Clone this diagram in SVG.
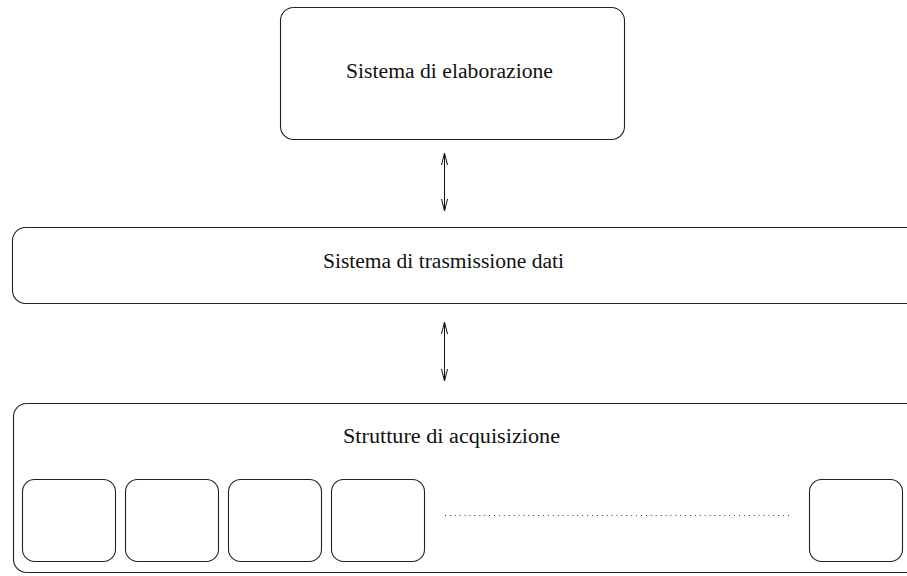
<svg xmlns="http://www.w3.org/2000/svg" width="907" height="576" viewBox="0 0 907 576">
<style>
.box{fill:none;stroke:#222;stroke-width:1.1}
.lbl{font-family:'Liberation Serif','Nimbus Roman','DejaVu Serif',serif;font-size:20.5px;fill:#111}
.con{fill:none;stroke:#111;stroke-width:1}
</style>
<rect width="907" height="576" fill="#fff"/>
<g id="elaborazione">
<rect class="box" x="280.5" y="7.5" width="344" height="132" rx="13"/>
<text class="lbl" x="346" y="78" textLength="207" lengthAdjust="spacingAndGlyphs">Sistema di elaborazione</text>
</g>
<g id="trasmissione">
<rect class="box" x="12.5" y="227.5" width="920" height="76" rx="13"/>
<text class="lbl" x="323" y="268" textLength="241" lengthAdjust="spacingAndGlyphs">Sistema di trasmissione dati</text>
</g>
<g id="acquisizione">
<rect class="box" x="13.5" y="403.5" width="920" height="169" rx="13"/>
<text class="lbl" x="343" y="443" textLength="217" lengthAdjust="spacingAndGlyphs">Strutture di acquisizione</text>
</g>
<g id="modulo1"><rect class="box" x="22.5" y="479.5" width="93" height="82" rx="12"/></g>
<g id="modulo2"><rect class="box" x="125.5" y="479.5" width="93" height="82" rx="12"/></g>
<g id="modulo3"><rect class="box" x="228.5" y="479.5" width="93" height="82" rx="12"/></g>
<g id="modulo4"><rect class="box" x="331.5" y="479.5" width="93" height="82" rx="12"/></g>
<g id="modulo5"><rect class="box" x="809.5" y="479.5" width="93" height="82" rx="12"/></g>
<g id="connectors">
<line class="con" x1="444.5" y1="154" x2="444.5" y2="210"/>
<polyline class="con" points="441.5,165 444.5,153 447.5,165"/>
<polyline class="con" points="441.5,199 444.5,211 447.5,199"/>
<line class="con" x1="444.5" y1="323" x2="444.5" y2="380"/>
<polyline class="con" points="441.5,334 444.5,322 447.5,334"/>
<polyline class="con" points="441.5,369 444.5,381 447.5,369"/>
<line x1="445" y1="515.5" x2="792" y2="515.5" stroke="#333" stroke-width="1" stroke-dasharray="1,3.9"/>
</g>
</svg>
